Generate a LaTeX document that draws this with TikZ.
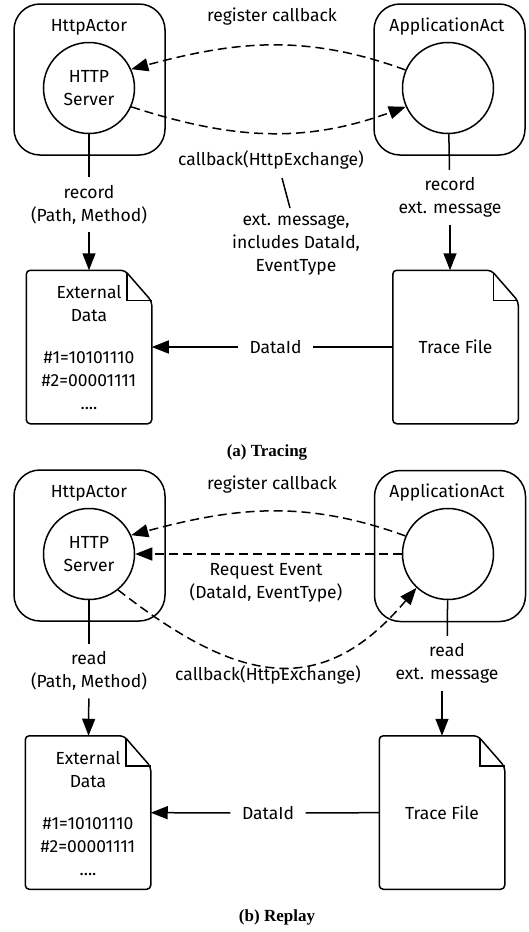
\documentclass[tikz,border=0pt]{standalone}
\usepackage{fontspec}
\setmainfont{Fira Sans}
\newfontfamily\capfont{Liberation Serif}
\usetikzlibrary{arrows.meta}

\tikzset{
  actor/.style={draw, rounded corners=26pt, minimum width=151pt, minimum height=151pt},
  proc/.style={draw, circle, minimum size=91pt, inner sep=0pt, align=center},
  docbox/.style={minimum width=124pt, minimum height=152pt, inner sep=0pt},
  lbl/.style={align=center, inner sep=7pt},
  arr/.style={-{Triangle[length=17pt,width=13pt]}},
  dash line/.style={dash pattern=on 9pt off 5pt},
  caption/.style={font=\capfont\bfseries\fontsize{17pt}{20pt}\selectfont},
}

% folded-corner outline round a docbox node
\newcommand\docoutline[1]{%
  \draw[rounded corners=4pt] ([xshift=-27pt]#1.north east) -- (#1.north west)
    -- (#1.south west) -- (#1.south east) -- ([yshift=-31pt]#1.north east) -- cycle;
  \draw ([xshift=-25pt,yshift=-3pt]#1.north east) |- ([yshift=-30pt]#1.north east);
}

\begin{document}
\begin{tikzpicture}[x=1pt, y=-1pt, line width=1.5pt,
  font=\fontsize{17.5pt}{23pt}\selectfont]
\useasboundingbox (0,0) rectangle (529,932);

% (a) tracing
\path
(89.5,79.5) node[actor] (httpA) {}
(449.5,79.5) node[actor] (appA) {}
(89,27) node (httpAname) {HttpActor}
(447,27) node (appAname) {ApplicationAct}
(89,88) node[proc] (srvA) {HTTP\\Server}
(448,88) node[proc] (actA) {}
(89,347) node[docbox] (extA) {}
(455.5,347) node[docbox] (traceA) {Trace File}
(89,303.5) node[align=center] (extAtitle) {External\\Data}
(89,381) node[align=center] (extAdata) {\#1=10101110\\\#2=00001111\\....}
;
\docoutline{extA}
\docoutline{traceA}

\node[lbl] (regA) at (272,17) {register callback};
\node[lbl] (cbA) at (271,160) {callback(HttpExchange)};
\node[lbl] (noteA) at (296,245) {ext. message,\\includes DataId,\\EventType};
\node[lbl] (recA) at (89,204.5) {record\\(Path, Method)};
\node[lbl] (recB) at (450,197.5) {record\\ext. message};
\node[lbl, inner xsep=11pt] (idA) at (275.5,347) {DataId};
\node[caption] (capA) at (267,452) {(a) Tracing};

\draw[dash line, arr] (actA.157) to[out=160, in=15] (srvA.24);
\draw[dash line, arr] (srvA.-24) to[out=-18, in=200] (actA.204);
\draw ([xshift=11pt,yshift=-18pt]cbA.center) -- ([xshift=-6pt,yshift=37pt]noteA.center);
\draw (srvA) -- (recA);
\draw[arr] (recA) -- (extA);
\draw (actA) -- (recB);
\draw[arr] (recB) -- (recB |- traceA.north);
\draw (traceA) -- (idA);
\draw[arr] (idA) -- (extA);

% (b) replay
\path
(89.5,545.5) node[actor] (httpB) {}
(450,546) node[actor] (appB) {}
(89,493) node (httpBname) {HttpActor}
(447,493) node (appBname) {ApplicationAct}
(89,554) node[proc] (srvB) {HTTP\\Server}
(448,554) node[proc] (actB) {}
(88,812.5) node[docbox] (extB) {}
(442,812.5) node[docbox] (traceB) {Trace File}
(88,769.5) node[align=center] (extBtitle) {External\\Data}
(88,847) node[align=center] (extBdata) {\#1=10101110\\\#2=00001111\\....}
;
\docoutline{extB}
\docoutline{traceB}

\node[lbl] (regB) at (272,485) {register callback};
\node[lbl] (reqB) at (266,582.5) {Request Event\\(DataId, EventType)};
\node[lbl] (cbB) at (268,675) {callback(HttpExchange)};
\node[lbl] (readA) at (89,671) {read\\(Path, Method)};
\node[lbl] (readB) at (447,663.5) {read\\ext. message};
\node[lbl, inner xsep=11pt] (idB) at (268,813) {DataId};
\node[caption] (capB) at (277,917) {(b) Replay};

\draw[dash line, arr] (actB.157) to[out=160, in=15] (srvB.24);
\draw[dash line, arr] (actB.west) -- (srvB.east);
\draw[dash line, arr] (srvB.-51) to[out=-38, in=230, looseness=1.28] (actB.227);
\draw (srvB) -- (readA);
\draw[arr] (readA) -- (extB);
\draw (actB) -- (readB);
\draw[arr] (traceB.north |- readB.south) -- (traceB.north);
\draw (traceB) -- (idB);
\draw[arr] (idB) -- (extB);

\end{tikzpicture}
\end{document}
